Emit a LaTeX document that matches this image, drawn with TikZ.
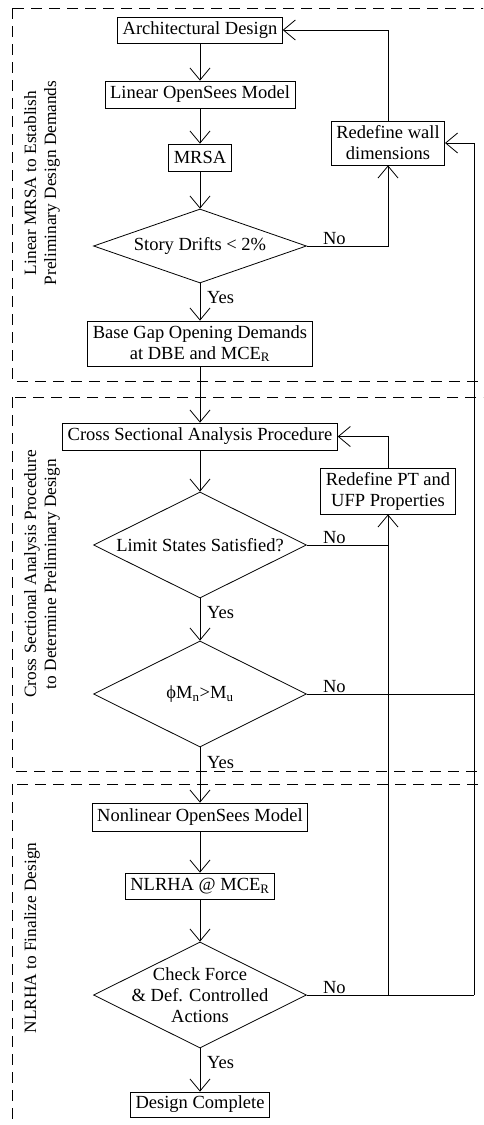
\documentclass[tikz,border=0pt]{standalone}
\usepackage{fontspec}
\setmainfont{Liberation Serif}
\usetikzlibrary{arrows.meta,shapes.geometric}

\begin{document}
\begin{tikzpicture}[x=1pt,y=-1pt,
  every node/.style={font=\fontsize{18.5}{21}\selectfont},
  stepbox/.style={draw,line width=0.8pt,inner xsep=5pt,inner ysep=0pt,
    minimum height=27pt,align=center},
  decision/.style={draw,line width=0.8pt,diamond,inner sep=0pt,
    minimum width=213pt},
  flow/.style={line width=0.8pt},
  arr/.style={flow,-{Straight Barb[length=12pt,width=20pt,line width=0.8pt]}},
  stage/.style={draw,line width=0.8pt,dash pattern=on 11pt off 7pt},
  side/.style={rotate=90,align=center,font=\fontsize{17.3}{20}\selectfont},
  lbl/.style={inner sep=1pt}
]
\useasboundingbox (0,0) rectangle (483,1125);
\clip (0,0) rectangle (483,1125);

% stage frames
\draw[stage] (12,8) rectangle (500,381);
\draw[stage] (12,397) rectangle (500,771);
\draw[stage] (12,784) rectangle (500,1150);

% stage titles
\node[side] (t1) at (42,183) {Linear MRSA to Establish\\Preliminary Design Demands};
\node[side] (t2) at (42,574) {Cross Sectional Analysis Procedure\\to Determine Preliminary Design};
\node[side] (t3) at (32,938) {NLRHA to Finalize Design};

% process steps
\node[stepbox,minimum height=26pt] (arch) at (200,30) {Architectural Design};
\node[stepbox] (lin) at (200,94.5) {Linear OpenSees Model};
\node[stepbox] (mrsa) at (200,157.5) {MRSA};
\node[stepbox,minimum height=44pt] (redw) at (388,143) {Redefine wall\\dimensions};
\node[decision,minimum height=74pt,label={[align=center]center:Story Drifts < 2\%}] (d1) at (200,246) {};
\node[stepbox,minimum height=45pt] (base) at (200,343.5) {Base Gap Opening Demands\\at DBE and MCE\textsubscript{R}};

\node[stepbox] (cross) at (200,436.5) {Cross Sectional Analysis Procedure};
\node[stepbox,minimum height=46pt] (redpt) at (388,491) {Redefine PT and\\UFP Properties};
\node[decision,minimum height=106pt,label={[align=center]center:Limit States Satisfied?}] (d2) at (200,545) {};
\node[decision,minimum height=106pt,label={[align=center]center:ϕM\textsubscript{n}>M\textsubscript{u}}] (d3) at (200,694) {};

\node[stepbox,minimum height=28pt] (nonlin) at (200,817) {Nonlinear OpenSees Model};
\node[stepbox,minimum height=26pt] (nlrha) at (200,886) {NLRHA @ MCE\textsubscript{R}};
\node[decision,minimum height=106pt,label={[align=center]center:Check Force\\\& Def. Controlled\\Actions}] (d4) at (200,995) {};
\node[stepbox,minimum height=25pt] (done) at (200,1104.5) {Design Complete};

% junctions of the return lines
\coordinate (j1) at (388,995);
\coordinate (j2) at (474,995);

% main flow
\draw[arr] (arch) -- (lin);
\draw[arr] (lin) -- (mrsa);
\draw[arr] (mrsa) -- (d1.north);
\draw[arr] (d1.south) -- (base);
\draw[arr] (base) -- (cross);
\draw[arr] (cross) -- (d2.north);
\draw[arr] (d2.south) -- (d3.north);
\draw[arr] (d3.south) -- (nonlin);
\draw[arr] (nonlin) -- (nlrha);
\draw[arr] (nlrha) -- (d4.north);
\draw[arr] (d4.south) -- (done);

% return loops
\draw[arr] (d1.east) -| (redw.south);
\draw[arr] (redw.north) |- (arch.east);
\draw[arr] (redpt.north) |- (cross.east);
\draw[flow] (d4.east) -- (j2);
\draw[arr] (j2) |- (redw.east);
\draw[arr] (j1) -- (redpt.south);
\draw[flow] (d2.east) -- (d2.east -| j1);
\draw[flow] (d3.east) -- (d3.east -| j2);

% branch labels
\node[lbl,anchor=south west] (n1) at ([xshift=15pt]d1.east) {No};
\node[lbl,anchor=south west] (n2) at ([xshift=15pt]d2.east) {No};
\node[lbl,anchor=south west] (n3) at ([xshift=15pt]d3.east) {No};
\node[lbl,anchor=south west] (n4) at ([xshift=15pt]d4.east) {No};
\node[lbl,anchor=west] (y1) at ([shift={(6pt,-14pt)}]d1.south) {Yes};
\node[lbl,anchor=west] (y2) at ([shift={(6pt,-14pt)}]d2.south) {Yes};
\node[lbl,anchor=west] (y3) at ([shift={(6pt,-15pt)}]d3.south) {Yes};
\node[lbl,anchor=west] (y4) at ([shift={(6pt,-14pt)}]d4.south) {Yes};
\end{tikzpicture}
\end{document}
